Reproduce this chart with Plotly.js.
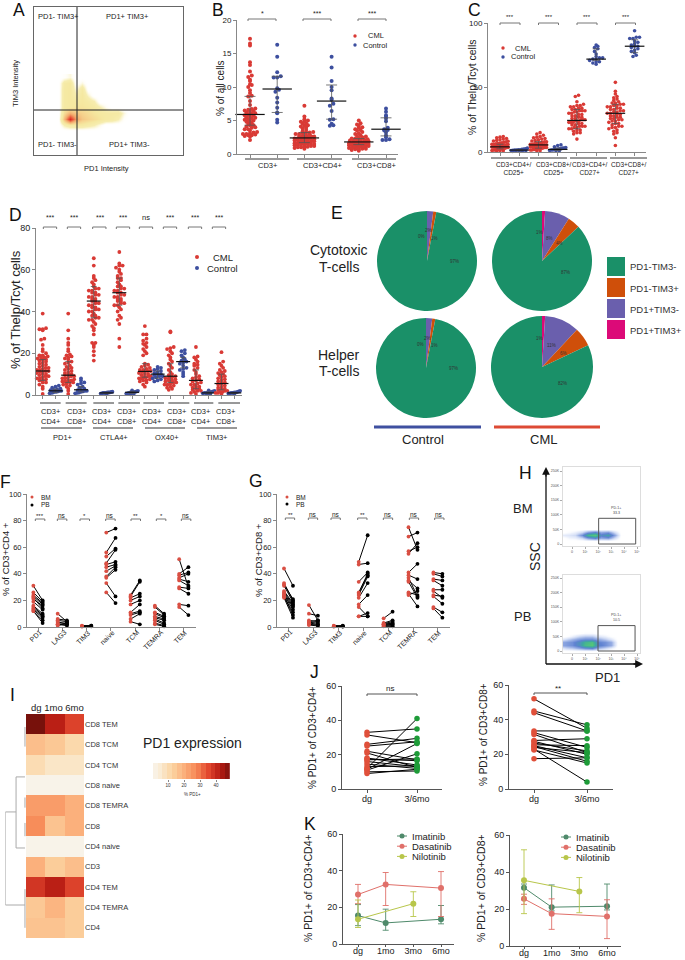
<!DOCTYPE html>
<html><head><meta charset="utf-8">
<script src="https://cdn.plot.ly/plotly-3.0.1.min.js"></script>
<style>html,body{margin:0;padding:0;background:#fff}</style></head>
<body><div id="chart" style="width:685px;height:960px"></div>
<script>
// ---------- DATA ----------
// Panel A density (rows bottom to top)
const aX=[24,30,36,42,48,54,60,66,72,78,84,90,96];
const aY=[24,30,36,42,48,54,60,66,72,78];
const aZ=[
[0,0,0,0,0,0,0,0,0,0,0,0,0],
[0,.2,.3,.3,.3,.25,.2,.1,0,0,0,0,0],
[0,.55,1,.65,.5,.45,.4,.35,.3,.28,.2,.05,0],
[0,.4,.6,.5,.45,.4,.35,.32,.3,.3,.3,.12,0],
[0,.3,.32,.35,.35,.33,.3,.2,.08,0,0,0,0],
[0,.3,.33,.3,.33,.28,.2,0,0,0,0,0,0],
[0,.3,.33,.2,.33,.15,0,0,0,0,0,0,0],
[0,.3,.33,.12,.3,.02,0,0,0,0,0,0,0],
[0,.28,.33,.02,.12,0,0,0,0,0,0,0,0],
[0,.05,.12,0,0,0,0,0,0,0,0,0,0]];
const aCrossX=43, aCrossY=45;

// Panel B
const bCd3Cml=[2.1,2.6,2.7,2.8,2.8,2.9,3,3,3.1,3.2,3.3,3.5,3.7,3.7,3.9,4,4.1,4.3,4.3,4.5,4.6,4.8,4.9,5,5.1,5.2,5.3,5.4,5.5,5.6,5.7,5.8,5.9,6,6.1,6.2,6.3,6.4,6.5,6.6,6.7,6.8,7.3,7.9,8.6,8.7,9.1,9.5,10,10.3,10.4,10.9,11.1,11.5,11.7,12.3,13.3,13.7,16.2,16.5,17.2];
const bCd3Ctl=[4.7,5.1,6.1,6.2,6.9,7.7,8.4,9.3,9.6,9.8,11.4,11.4,11.6,12.2,14.5,16.3];
const bCd4Cml=[.8,.9,1,1,1.1,1.1,1.2,1.2,1.3,1.3,1.4,1.4,1.5,1.5,1.5,1.6,1.6,1.7,1.7,1.8,1.8,1.9,1.9,2,2,2,2.1,2.1,2.2,2.2,2.3,2.3,2.4,2.4,2.5,2.5,2.6,2.6,2.7,2.7,2.8,2.9,3,3,3.1,3.2,3.2,3.3,3.4,3.6,3.8,3.9,4.1,4.2,4.3,4.5,4.6,4.8,4.9,5,5.2,5.6,7.2];
const bCd4Ctl=[4.2,4.3,4.5,5.1,5.2,6.4,7.2,7.5,8.1,8.3,9.5,10,10.9,12.9,14.5];
const bCd8Cml=[.5,.6,.7,.7,.8,.8,.9,.9,1,1,1,1.1,1.1,1.2,1.2,1.3,1.3,1.3,1.4,1.4,1.5,1.5,1.5,1.6,1.6,1.7,1.7,1.7,1.8,1.8,1.9,1.9,2,2,2,2.1,2.2,2.2,2.3,2.3,2.4,2.5,2.6,2.7,2.8,3,3.1,3.3,3.5,3.6,3.7,3.9,4,4.2,4.4,4.6,5];
const bCd8Ctl=[2.1,2.1,2.2,2.5,2.8,3.2,3.5,3.6,3.7,3.9,4.9,5.3,5.6,5.8,6.3,6.8];
const bMed=[5.9,9.7,2.4,7.9,1.8,3.7], bHi=[8.6,11.6,3.2,10.3,2.3,5.4], bLo=[4.3,6.2,1.7,5.2,1.4,2.7];
const bGroups=['CD3+','CD3+CD4+','CD3+CD8+'], bStars=['*','***','***'];

// Panel C
const cA1=[.8,1,1,1.2,1.5,1.5,1.8,2,2,2.2,2.5,2.5,2.8,3,3,3.2,3.5,3.5,3.8,4,4,4.2,4.5,4.5,4.8,5,5,5.2,5.5,5.8,6,6,6.3,6.5,7,7.2,7.5,8,8.3,8.5,9,9.5,10,10.5,11,11.5,12];
const cA2=[.5,.7,.8,1,1,1.2,1.3,1.5,1.5,1.7,1.8,2,2.2,2.5,3];
const cB1=[1,1,1.5,1.5,2,2,2.3,2.5,2.5,3,3,3.3,3.5,3.5,4,4,4.3,4.5,5,5,5.3,5.5,5.5,6,6,6.3,6.5,7,7,7.5,8,8,8.5,9,9.5,10,10.5,11,11.5,12,13,14,15];
const cB2=[1,1,1.2,1.5,1.5,1.8,2,2,2.2,2.5,2.5,3,3,3.5,4,5,5.5];
const cC1=[10,14,15,15,16,17,17,18,18,19,19,20,20,20,21,21,22,22,23,23,23,24,24,24,25,25,25,26,26,27,27,28,28,29,29,30,30,31,31,32,32,32,33,33,34,34,35,35,36,36,37,39,43,44];
const cC2=[68,69,70,70,71,72,72,73,73,74,76,78,80,81,82,83];
const cD1=[5,11,14,15,16,17,18,19,19,20,20,21,22,22,23,24,24,25,25,26,26,27,27,28,28,29,29,30,30,31,31,32,32,33,33,34,34,35,35,36,36,37,37,38,38,39,40,41,42,43,45,47,54];
const cD2=[74,75,77,78,79,80,81,82,82,83,84,85,86,88,88,89,89,94];
const cMed=[4,1.5,5.5,2,24.5,72,30,82], cHi=[6,2,8,3,33,80,37,87], cLo=[2.5,1,3,1.2,18,71,22,77];
const cGroups=['CD3+CD4+/<br>CD25+','CD3+CD8+/<br>CD25+','CD3+CD4+/<br>CD27+','CD3+CD8+/<br>CD27+'];

// Panel D
const dP1=[.5,3,4,5,6,6,7,7,7.5,8,8,8.5,9,9,9.5,10,10,10.5,11,11,11.5,11.5,12,12,12.5,13,13,13.5,14,14.5,15,15.5,16,16.5,17,17,17.5,18,18,18.5,19,19,20,21,22,24,26.5,27,31,31.5,31.5,32,39];
const dP2=[.8,1,1.2,1.5,1.5,1.7,2,2,2.3,2.5,2.8,3,3.5,4,4.5];
const dP3=[.5,2,3,4,4.5,5,5.5,6,6,6.5,6.5,7,7,7.5,8,8,8.5,9,9,9.5,10,10,10.5,11,11.5,12,12.5,13,13.5,14,15,15.5,16,17,17.5,18,18.5,19,19.5,21,22,24,25,27,31,39];
const dP4=[.8,1,1.2,1.5,1.7,2,2,2.3,2.5,3,3.5,4,5,5.5,6,7,8];
const dC1=[16.5,19,21,23,24,25,25,29,31,32,33,34,35,36,36,37,37,38,38,39,40,40,41,41,42,42,43,43,44,44,45,45,46,46,47,47,48,48,49,49,50,50,51,51,52,53,54,55,56,57,62,65.5];
const dC2=[.5,.7,.8,1,1,1,1.1,1.2,1.2,1.3,1.5,1.6];
const dC3=[23,27,34,36,37,38,40,41,42,43,43,44,44,45,45,46,46,47,47,48,48,49,49,50,50,51,51,52,52,53,54,55,56,56,57,58,59,60,61,62,62,63,68.5];
const dC4=[.3,.5,.7,.8,1,1,1.2,1.3,1.4,1.5,1.7,2,2.2];
const dO1=[4,5,6,6.5,7,7,7.5,8,8,8.5,8.5,9,9,9.5,10,10,10.5,11,11,11.5,11.5,12,12,12.5,13,13.5,14,14.5,15,19,20,21,22,23,24,24.5,25,26,27,29,29,33];
const dO2=[6.5,7,7.5,8,8.5,9,9,9.5,10,10,10.5,11,11.5,12,12.5,13,13.5];
const dO3=[2.5,3,3.5,4,4.5,5,5,5.5,6,6,6.5,7,7,7.5,8,8,8.5,9,9.5,10,11,12,13,14,15,16,17,18,19,20,21,22,22.5,23,30,30.5];
const dO4=[9,10,11,12,12.5,13,14,15,15.5,16,16.5,17,18,19,20,21,21.5];
const dT1=[.5,1,1.5,2,2,2.5,3,3,3.5,4,4,5,5,5.5,6,6.5,7,7.5,8,8.5,9,10,11,12,13,14,14.5,15,16,17,18,18.5,23];
const dT2=[.4,.6,.8,1,1,1.2,1.3,1.5,1.7,2,2.2];
const dT3=[.5,1,1,1.5,1.5,2,2,2.5,3,3,3.5,4,4.5,5,5.5,6,6.5,7,7.5,8,8.5,9,9.5,10,10.5,11,11.5,12,13,14,15,16,20.5];
const dT4=[.5,.7,.8,1,1,1.1,1.2,1.3,1.5,1.7,2];
const dMed=[11.5,2,9.5,2.5,45,1,49,1.3,11.3,10,9,16,7,1,5.5,1];
const dHi=[17,2.8,16,4,52,1.3,56,1.8,15,11.5,15,18,12,1.5,10,1.3];
const dLo=[7,1.2,6,1.5,37,.7,43,.8,8.5,8,6,13,3,.6,2.5,.7];
const dStars=['***','***','***','***','ns','***','***','***'];
const dMarkers=['PD1+','CTLA4+','OX40+','TIM3+'];

// Panel E
const pieLabels=['PD1+TIM3+','PD1+TIM3-','PD1-TIM3+','PD1-TIM3-'];
const pieColors=['#dc0a78','#6a5fad','#cf4f0a','#1a9068'];
const pieCytoCtl=[0,2,1,97], pieCytoCml=[1,8,4,87], pieHelpCtl=[0,2,1,97], pieHelpCml=[1,11,6,82];

// Panel F
const fCats=['PD1','LAG3','TIM3','naive','TCM','TEMRA','TEM'];
const fBM=[[31,26,24,23,22,21,19,16,15,14,13,12,12],[10,6,5,4,3,2,2,1],[1,.8,.5,.3],[71,56,53,48,47,45,42,38,37,33,26],[24,23,22,20,17,11,10,9,6,4],[16,15,11,10,8,7,6,5,3,2],[51,40,39,37,36,35,30,29,17,15]];
const fPB=[[20,19,18,17,14,16,13,10,9,8,7,5,3],[4,5,4,2,3,2,1,3],[1,1,.5,.8],[74,67,59,58,49,47,46,45,43,23,18],[35,34,25,23,20,17,12,11,10,2],[10,9,8,7,6,5,3,2,1,.5],[30,45,41,40,34,31,29,25,16,9]];
const fStars=['***','ns','*','ns','**','*','ns'];
// Panel G
const gBM=[[44,33,32,31,27,26,25,24,24,23,23,22],[16.5,10,5,4,3.5,3,2,1.5],[1,.8,.5,.3],[49,47,34,26,25,24,22,17,15,8,8],[6.5,3,2.5,2,2,1.5,1,.5],[75,68,57,55,41,39,37,35,34,26,25,24],[41,40,36,35,28,27,24,23,15,14]];
const gPB=[[31,20,21,19,18,17,16,15,13,11,9,7],[5,8.5,4,5,3,2,1.5,.8],[1,.8,.5,.3],[69,48,41,40,39,38,33,24,8,8,10.5],[11.5,5,4,3,2.5,2,1,.5],[58,71,60,63,47.5,36,23,29,22,24,15.5,27],[40,38,35,31,28,22,23,17.5,11,7]];
const gStars=['**','ns','ns','**','ns','ns','ns'];

// Panel H density
const hX=[-.75,-.25,.25,.75,1.25,1.75,2.25,2.75,3.25,3.75];
const hTopY=[10,20,30,40,50];
const hTopZ=[[0,0,0,0,0,0,0,0,0,0],[0,.08,.1,.2,.4,.5,.35,.4,.2,0],[.12,.15,.2,.45,.85,1,.55,.7,.4,.02],[0,.05,.1,.2,.4,.5,.35,.4,.2,0],[0,0,0,0,0,0,0,0,0,0]];
const hBotX=[-.9,-.5,0,.5,1,1.5,2,2.5,3,3.5];
const hBotY=[0,10,20,30,40,50,60,70];
const hBotZ=[[0,0,0,0,0,0,0,0,0,0],[.1,.2,.25,.35,.45,.5,.3,.2,.1,0],[.35,.4,.45,.6,.9,1,.55,.45,.35,0],[.35,.4,.45,.6,.85,.95,.5,.45,.35,0],[.1,.2,.3,.4,.45,.45,.35,.25,.15,0],[0,.02,.1,.2,.25,.25,.15,.1,.03,0],[0,0,0,.02,.05,.05,.02,0,0,0],[0,0,0,0,0,0,0,0,0,0]];
const hXTicks=['0','10¹','10²','10³','10⁴','10⁵'], hYTicks=['0','50K','100K','150K','200K','250K'];

// Panel I
const iCols=['dg','1mo','6mo'];
const iRows=['CD8 TEM','CD8 TCM','CD4 TCM','CD8 naive','CD8 TEMRA','CD8','CD4 naive','CD3','CD4 TEM','CD4 TEMRA','CD4'];
const iZ=[[49,42,36],[17,15,11],[10,7,7],[1,1,1],[24,24,20],[27,16,20],[1,1,1],[20,14,17],[38,42,36],[15,19,14],[16,16,14]];
const iSteps=[2,5,8,11,14,17,20,23,26,29,32,35,38,41,44,47];
const dendroX=[.05,.48,.48,.05,null,.48,1,1,.05,null,.05,.05,null,.05,.05,null,.05,.05,null,.05,.05];
const dendroY=[2.59,2.59,6.08,6.08,null,4.31,4.31,8.88,8.88,null,.14,1.1,null,3.6,4.1,null,4.85,5.5,null,8.1,10];

// Panel J
const jLeftDg=[33,31.5,26,25,22,21,18,17.5,17,16,14.5,13,12,11.5,11,10,9];
const jLeftPost=[35,27,29.5,27.5,17,12.5,14,16.5,17.5,13,12,13.5,41,26.5,20.5,10.5,11.5];
const jRightDg=[52,45,44,33.5,32.5,31.5,28,27.5,26.5,25.5,25,24.5,24,23,22.5,17.5];
const jRightPost=[35,37,33.5,33.5,24,21,29,20,22,25,18,16,21,4,15,18];

// Panel K
const kT=['dg','1mo','3mo','6mo'];
const kL={Imatinib:[[15.5,11.5,null,13.5],[21.5,19,null,21],[10,7.5,null,11]],Dasatinib:[[27,32.5,null,30.5],[32.5,39,null,39.5],[22,21,null,15]],Nilotinib:[[13.5,null,22,null],[24,null,28.5,null],[9,null,15,null]]};
const kR={Imatinib:[[31.5,21,null,21.5],[33.5,33,null,33.5],[25,19,null,19.5]],Dasatinib:[[25.5,17.5,null,16],[28,25.5,null,25],[22.5,9,null,4]],Nilotinib:[[35.5,null,29.5,null],[52,null,37,null],[17.5,null,18,null]]};
const kColors={Imatinib:'#4f8a6b',Dasatinib:'#e0706a',Nilotinib:'#b8c64a'};

// ---------- HELPERS ----------
const W=685,H=960,FONT='Liberation Sans, Arial, sans-serif',RED='#d93a35',BLUE='#3d4f9f',TXT='#222';
const traces=[],shapes=[],annots=[],layout={};
const px=x=>x/W, py=y=>1-y/H;
const sub=k=>k===1?'':String(k);
function rng(a,b,p0,v0,p1,v1){const f=p=>v0+(p-p0)*(v1-v0)/(p1-p0);return [f(a),f(b)];}
function axes(k,l,r,t,b,xr,yr,xo,yo){
 const base={showgrid:false,zeroline:false,showline:true,linecolor:'#888',linewidth:1,ticks:'outside',ticklen:3,tickwidth:1,tickcolor:'#888',tickfont:{family:FONT,size:8,color:TXT},fixedrange:true};
 layout['xaxis'+sub(k)]=Object.assign({},base,{domain:[px(l),px(r)],range:xr,anchor:'y'+sub(k)},xo||{});
 layout['yaxis'+sub(k)]=Object.assign({},base,{domain:[py(b),py(t)],range:yr,anchor:'x'+sub(k)},yo||{});
}
const on=(k,t)=>{t.xaxis='x'+sub(k);t.yaxis='y'+sub(k);t.hoverinfo='skip';t.showlegend=false;traces.push(t);};
function T(text,x,y,size,o){o=o||{};annots.push({text,x:px(x),y:py(y),xref:'paper',yref:'paper',showarrow:false,xanchor:o.a||'center',yanchor:'middle',textangle:o.rot||0,font:{family:FONT,size,color:o.c||TXT},borderpad:0});}
function L(x0,y0,x1,y1,c,w){shapes.push({type:'line',xref:'paper',yref:'paper',x0:px(x0),y0:py(y0),x1:px(x1),y1:py(y1),line:{color:c||'#444',width:w||1}});}
function bracket(x0,x1,y,c){shapes.push({type:'path',xref:'paper',yref:'paper',path:`M${px(x0)},${py(y+2)} L${px(x0)},${py(y)} L${px(x1)},${py(y)} L${px(x1)},${py(y+2)}`,line:{color:c||'#777',width:1}});}
function dot(x,y,r,c){shapes.push({type:'circle',xref:'paper',yref:'paper',x0:px(x-r),x1:px(x+r),y0:py(y+r),y1:py(y-r),fillcolor:c,line:{width:0}});}
function box(x0,y0,x1,y1,c){shapes.push({type:'rect',xref:'paper',yref:'paper',x0:px(x0),x1:px(x1),y0:py(y1),y1:py(y0),fillcolor:c,line:{width:0}});}
function swarm(vals,bin,dx,maxH){
 const m=new Map();vals.forEach(v=>{const b=Math.round(v/bin);if(!m.has(b))m.set(b,[]);m.get(b).push(v);});
 const xs=[],ys=[];
 for(const a of m.values()){const n=a.length,d=Math.min(dx,n>1?2*maxH/(n-1):dx);a.forEach((v,i)=>{xs.push((i-(n-1)/2)*d);ys.push(v);});}
 return {xs,ys};
}
function group(k,x0,vals,med,hi,lo,color,o){
 const s=swarm(vals,o.bin,o.dx,o.maxH);
 on(k,{type:'scatter',mode:'markers',x:s.xs.map(v=>v+x0),y:s.ys,cliponaxis:false,marker:{color,size:o.ms}});
 on(k,{type:'scatter',mode:'markers',x:[x0],y:[med],cliponaxis:false,marker:{symbol:'line-ew',size:o.len,color:'#111',line:{color:'#111',width:1.2}},
  error_y:{type:'data',symmetric:false,array:[hi-med],arrayminus:[med-lo],color:'#555',thickness:.8,width:o.cap}});
}
function paired(k,i,half,a,b,ms,c1,c2,lc){
 const lx=[],ly=[];a.forEach((v,j)=>{lx.push(i-half,i+half,null);ly.push(v,b[j],null);});
 on(k,{type:'scatter',mode:'lines',x:lx,y:ly,cliponaxis:false,line:{color:lc||'#000',width:1}});
 on(k,{type:'scatter',mode:'markers',x:a.map(()=>i-half),y:a,cliponaxis:false,marker:{color:c1,size:ms}});
 on(k,{type:'scatter',mode:'markers',x:b.map(()=>i+half),y:b,cliponaxis:false,marker:{color:c2,size:ms}});
}
// rotated category labels, ending just below each tick
function rotLabels(x0,d,size){
 const wid={PD1:11,LAG3:15.5,TIM3:15,naive:16,TCM:13,TEMRA:22,TEM:14};
 fCats.forEach((c,i)=>{const xe=x0+i*d+2,ye=632,o=wid[c]/2*.707;T(c,xe-o,ye+o,size,{rot:-45});});
}

// ---------- PANEL LETTERS ----------
[['A',19,10],['B',218,10],['C',474,10],['D',15,215],['E',337,213],['F',5,482],['G',256,481],['H',525,473],['I',12,695],['J',314,672],['K',310,824]].forEach(a=>T(a[0],a[1],a[2],17.5,{c:'#111'}));

// ---------- A ----------
axes(1,34,183,7,155,[0,149],[0,148],{mirror:true,ticks:'',showticklabels:false,linecolor:'#666'},{mirror:true,ticks:'',showticklabels:false,linecolor:'#666'});
on(1,{type:'heatmap',x:aX,y:aY,z:aZ,zmin:0,zmax:1,zsmooth:'best',showscale:false,colorscale:[[0,'rgba(255,255,255,0)'],[.08,'rgba(250,240,185,.15)'],[.2,'#f6edb0'],[.33,'#f5e8a0'],[.45,'#f6d38e'],[.65,'#f2a468'],[.85,'#e8553a'],[1,'#dd2a20']]});
on(1,{type:'scatter',mode:'lines',x:[aCrossX,aCrossX,null,0,149],y:[0,148,null,aCrossY,aCrossY],line:{color:'#222',width:1}});
T('PD1- TIM3+',58,16,7.5);T('PD1+ TIM3+',127,16,7.5);T('PD1- TIM3-',57,144,7.5);T('PD1+ TIM3-',129,144,7.5);
T('PD1 Intensity',106,168,7.5);T('TIM3 Intensity',16,83,7.5,{rot:-90});

// ---------- B ----------
axes(2,237,398,20,154,rng(237,398,250,0,277.2,1),[0,20],{tickvals:[0,1,2,3,4,5],showticklabels:false},{tickvals:[0,5,10,15,20]});
const bOpt={bin:.35,dx:.13,maxH:.36,ms:4,len:21,cap:5.5};
[bCd3Cml,bCd3Ctl,bCd4Cml,bCd4Ctl,bCd8Cml,bCd8Ctl].forEach((v,i)=>group(2,i,v,bMed[i],bHi[i],bLo[i],i%2?BLUE:RED,bOpt));
bGroups.forEach((g,i)=>{const c=[268,322,376][i];T(g,c,166,7.5);L([245,297,352][i],159,[289,342,396][i],159,'#333',1);
 const x0=[248,303,358][i];bracket(x0,x0+28,19);T(bStars[i],x0+14,13,7);});
T('% of all cells',220,88,10,{rot:-90});
dot(355,36,1.7,RED);dot(355,45,1.7,BLUE);T('CML',376,36,7.5);T('Control',375,45,7.5);

// ---------- C ----------
axes(3,488,646,23,152,rng(488,646,500,0,519.23,1),[0,100],{tickvals:[0,1,2,3,4,5,6,7],showticklabels:false},{tickvals:[0,50,100]});
const cOpt={bin:2.4,dx:.17,maxH:.42,ms:3.6,len:14,cap:3.5};
[cA1,cA2,cB1,cB2,cC1,cC2,cD1,cD2].forEach((v,i)=>group(3,i,v,cMed[i],cHi[i],cLo[i],i%2?BLUE:RED,cOpt));
cGroups.forEach((g,i)=>{annots.push({text:g,x:px([514,554,590,629][i]),y:py(168),xref:'paper',yref:'paper',showarrow:false,xanchor:'center',yanchor:'middle',font:{family:FONT,size:6.5,color:TXT}});
 L([491,530,570,610][i],158,[528,567,607,647][i],158,'#333',1);
 const x0=500+i*38.5;bracket(x0,x0+20,23);T('***',x0+10,17,6);});
T('% of Thelp/Tcyt cells',472,87,10.5,{rot:-90});
dot(503,48,1.7,RED);dot(503,57,1.7,BLUE);T('CML',523,48,7.5);T('Control',523,57,7.5);

// ---------- D ----------
axes(4,36,242,228,395,rng(36,242,42.7,0,55.47,1),[0,80],{tickvals:[...Array(16).keys()],showticklabels:false},{tickvals:[0,20,40,60,80],tickfont:{family:FONT,size:9,color:TXT}});
const dOpt={bin:1.4,dx:.26,maxH:.46,ms:3.8,len:10,cap:3};
[dP1,dP2,dP3,dP4,dC1,dC2,dC3,dC4,dO1,dO2,dO3,dO4,dT1,dT2,dT3,dT4].forEach((v,i)=>group(4,i,v,dMed[i],dHi[i],dLo[i],i%2?BLUE:RED,dOpt));
const dBr=[130,202,278,349,418,490,565,637], dLn=[[120,182],[197,260],[280,342],[355,420],[430,492],[505,568],[582,640],[655,720]], dLab=[51,77,102,127,152,177,201,226];
dStars.forEach((s,i)=>{bracket(dBr[i]/3,dBr[i]/3+13.3,227);T(s,dBr[i]/3+7,s==='ns'?218:217,s==='ns'?7.5:7);
 L(dLn[i][0]/3,403,dLn[i][1]/3,403,'#333',1);
 annots.push({text:i%2?'CD3+<br>CD8+':'CD3+<br>CD4+',x:px(dLab[i]),y:py(416),xref:'paper',yref:'paper',showarrow:false,xanchor:'center',yanchor:'middle',font:{family:FONT,size:7.5,color:TXT}});});
dMarkers.forEach((m,i)=>{L([41,93,145,197][i],428,[82,133,185,237][i],428,'#333',1);T(m,[63,114,167,217][i],437,7.5);});
T('% of Thelp/Tcyt cells',15,310,13,{rot:-90});
dot(197,257,2,RED);dot(197,268,2,BLUE);T('CML',223,257,9.5);T('Control',222,268,9.5);

// ---------- E ----------
const pies=[[pieCytoCtl,427,261,50],[pieCytoCml,542,261,50],[pieHelpCtl,426,368,50],[pieHelpCml,542,367,51]];
pies.forEach(p=>traces.push({type:'pie',values:p[0],labels:pieLabels,sort:false,direction:'clockwise',rotation:0,textinfo:'none',hoverinfo:'skip',showlegend:false,
 marker:{colors:pieColors,line:{width:0}},domain:{x:[px(p[1]-p[3]),px(p[1]+p[3])],y:[py(p[2]+p[3]),py(p[2]-p[3])]}}));
const pieTxt=[[[421,237],[428,231],[434,238],[454,261]],[[539,232],[549,238],[559,243],[565,272]],[[420,344],[427,338],[434,345],[453,368]],[[539,338],[551,345],[563,353],[562,383]]];
pies.forEach((p,i)=>p[0].forEach((v,j)=>T(v+'%',pieTxt[i][j][0],pieTxt[i][j][1],4.5,{c:'#333'})));
T('Cytotoxic',339,250,14);T('T-cells',339,267,14);T('Helper',339,355,14);T('T-cells',339,371,14);
L(374,427,481,427,'#3f50a0',3);L(494,427,600,427,'#dd4a35',3);T('Control',423,439,13);T('CML',543,439,13);
[3,2,1,0].forEach((c,i)=>{box(607,257+i*21,625,276+i*21,pieColors[c]);T(pieLabels[c],629,267+i*21,9.5,{a:'left',c:'#333'});});

// ---------- F ----------
axes(5,27,196,494,627,rng(27,196,38,0,62.3,1),[0,100],{tickvals:[0,1,2,3,4,5,6],showticklabels:false},{tickvals:[0,20,40,60,80,100],tickfont:{family:FONT,size:7.5,color:TXT}});
fCats.forEach((c,i)=>paired(5,i,.19,fBM[i],fPB[i],3.8,'#d94f43','#000'));
rotLabels(38,24.3,7);
[106,172,240,317,393,469,544].forEach((x,i)=>{bracket(x/3,x/3+9.5,519);T(fStars[i],x/3+4.8,fStars[i]==='ns'?515:516,fStars[i]==='ns'?6.5:6);});
T('% of CD3+CD4 +',5,559,9.5,{rot:-90});
dot(32,497,1.5,'#d94f43');dot(32,505,1.5,'#000');T('BM',40,497,6.5,{a:'left'});T('PB',40,505,6.5,{a:'left'});

// ---------- G ----------
axes(6,277,450,494,627,rng(277,450,288.5,0,313.4,1),[0,100],{tickvals:[0,1,2,3,4,5,6],showticklabels:false},{tickvals:[0,20,40,60,80,100],tickfont:{family:FONT,size:7.5,color:TXT}});
fCats.forEach((c,i)=>paired(6,i,.18,gBM[i],gPB[i],3.8,'#d94f43','#000'));
rotLabels(288.5,24.9,7);
[136,205,273,353,430,508,584].forEach((x,i)=>{bracket(240+x/3,240+x/3+9.3,518);T(gStars[i],240+x/3+4.7,gStars[i]==='ns'?514:515,gStars[i]==='ns'?6.5:6);});
T('% of CD3+CD8 +',258,560,9.5,{rot:-90});
dot(287,497,1.5,'#d94f43');dot(287,504,1.5,'#000');T('BM',295,497,6.5,{a:'left'});T('PB',295,504,6.5,{a:'left'});

// ---------- H ----------
const flowScale=[[0,'rgba(255,255,255,0)'],[.1,'rgba(215,225,248,.5)'],[.3,'#a5b9e8'],[.5,'#5f82d2'],[.75,'#3fa8a0'],[1,'#55c878']];
const hAx={ticklen:2,tickfont:{family:FONT,size:3.6,color:'#555'},linecolor:'#ddd',tickcolor:'#aaa',mirror:true};
axes(7,563,640,467,546,rng(563,640,572,0,585,1),rng(546,467,544,0,471,250),Object.assign({tickvals:[0,1,2,3,4,5],ticktext:hXTicks},hAx),Object.assign({tickvals:[0,50,100,150,200,250],ticktext:hYTicks},hAx));
axes(8,563,640,575,653,rng(563,640,572,0,585,1),rng(653,575,651,0,578,250),Object.assign({tickvals:[0,1,2,3,4,5],ticktext:hXTicks},hAx),Object.assign({tickvals:[0,50,100,150,200,250],ticktext:hYTicks},hAx));
on(7,{type:'heatmap',x:hX,y:hTopY,z:hTopZ,zmin:0,zmax:1,zsmooth:'best',showscale:false,colorscale:flowScale});
on(8,{type:'heatmap',x:hBotX,y:hBotY,z:hBotZ,zmin:0,zmax:1,zsmooth:'best',showscale:false,colorscale:flowScale});
shapes.push({type:'rect',xref:'x7',yref:'y7',x0:2.05,x1:4.9,y0:0,y1:88,line:{color:'#555',width:1}});
shapes.push({type:'rect',xref:'x8',yref:'y8',x0:2,x1:4.85,y0:0,y1:87,line:{color:'#555',width:1}});
T('PD-1+',616,508,3.6,{c:'#444'});T('33.3',616,513,3.6,{c:'#444'});T('PD-1+',616,615,3.6,{c:'#444'});T('10.5',616,620,3.6,{c:'#444'});
T('BM',523,509,13);T('PB',522,616,13);T('SSC',535,557,14,{rot:-90});T('PD1',607,677,13);
L(546,664,546,472,'#111',1.3);L(546,664,638,664,'#111',1.3);
annots.push({text:'',x:px(546),y:py(467),ax:px(546),ay:py(478),xref:'paper',yref:'paper',axref:'paper',ayref:'paper',showarrow:true,arrowhead:2,arrowsize:1.2,arrowwidth:1.3,arrowcolor:'#111'});
annots.push({text:'',x:px(643),y:py(664),ax:px(632),ay:py(664),xref:'paper',yref:'paper',axref:'paper',ayref:'paper',showarrow:true,arrowhead:2,arrowsize:1.2,arrowwidth:1.3,arrowcolor:'#111'});

// ---------- I ----------
const iScale=[[0,'#f8f5ee'],[.1,'#faecd5'],[.25,'#fbd4a2'],[.4,'#fbb07c'],[.55,'#f78a58'],[.7,'#e2482f'],[.85,'#b71c13'],[1,'#6d0f0a']];
axes(9,26,84,714,938,[-.5,2.5],[10.5,-.5],{showline:false,ticks:'',showticklabels:false,type:'linear',tickvals:[]},{side:'right',showline:false,ticks:'',tickmode:'array',tickvals:iRows.map((r,i)=>i),ticktext:iRows,tickfont:{family:FONT,size:7.5,color:'#333'}});
on(9,{type:'heatmap',x:[0,1,2],y:iRows.map((r,i)=>i),z:iZ,text:iRows,zmin:0,zmax:50,showscale:false,colorscale:iScale,xgap:0,ygap:0});
T(iCols.join(' '),57,707,9.5);
axes(10,5.3,26,714,938,[1,0],[10.5,-.5],{visible:false},{visible:false});
on(10,{type:'scatter',mode:'lines',x:dendroX,y:dendroY,line:{color:'#aaa',width:1}});
axes(11,153,231,763,779,rng(153,231,168,10,184,20),[-.5,.5],{tickvals:[10,20,30,40],ticklen:1.5,tickfont:{family:FONT,size:4.5,color:'#333'},showline:false},{visible:false});
on(11,{type:'heatmap',x:iSteps,y:[0],z:[iSteps],zmin:0,zmax:50,showscale:false,colorscale:iScale});
T('PD1 expression',192,743,14);T('% PD1+',192,794,4.5,{c:'#333'});

// ---------- J ----------
const jAx={linecolor:'#555',tickcolor:'#555',tickfont:{family:FONT,size:9,color:TXT}};
axes(12,342,442,686,789,rng(342,442,367,0,417,1),[0,60],Object.assign({tickvals:[0,1],ticktext:['dg','3/6mo'],ticklabelstandoff:-2},jAx),Object.assign({tickvals:[0,20,40,60]},jAx));
axes(13,509,613,685,789,rng(509,613,534,0,587,1),[0,60],Object.assign({tickvals:[0,1],ticktext:['dg','3/6mo'],ticklabelstandoff:-2},jAx),Object.assign({tickvals:[0,20,40,60]},jAx));
paired(12,.5,.5,jLeftDg,jLeftPost,5.5,'#e0503a','#1e9b38');
paired(13,.5,.5,jRightDg,jRightPost,5.5,'#e0503a','#1e9b38');
bracket(367,417,694,'#555');T('ns',390,688,8);bracket(534,587,693,'#555');T('**',558,688,8);
T('% PD1+ of CD3+CD4+',312,738,10,{rot:-90});T('% PD1+ of CD3+CD8+',483,735,10,{rot:-90});

// ---------- K ----------
function kPanel(k,l,r,t,b,x0,d,src){
 const ax={linecolor:'#555',tickcolor:'#555',tickfont:{family:FONT,size:9,color:TXT}};
 axes(k,l,r,t,b,rng(l,r,x0,0,x0+d,1),[0,60],Object.assign({tickvals:[0,1,2,3],ticktext:kT,ticklen:2,ticklabelstandoff:-4},ax),Object.assign({tickvals:[0,20,40,60]},ax));
 Object.keys(src).forEach(n=>{const [m,h,lo]=src[n];const up=m.map((v,i)=>v==null?null:h[i]-v),dn=m.map((v,i)=>v==null?null:v-lo[i]);
  on(k,{type:'scatter',mode:'lines+markers',name:n,x:[0,1,2,3],y:m,connectgaps:true,cliponaxis:false,line:{color:kColors[n],width:1},marker:{color:kColors[n],size:6},
   error_y:{type:'data',symmetric:false,array:up,arrayminus:dn,color:kColors[n],thickness:.9,width:3}});});
}
kPanel(14,343,454,834,944,358,27.67,kL);
kPanel(15,510,621,835,946,524,27.67,kR);
Object.keys(kColors).forEach((n,i)=>{
 [[402,411,836],[566,575,837]].forEach((q,j)=>{const y=q[2]+i*10.2;L(q[0]-5,y,q[0]+5,y,kColors[n],1);dot(q[0],y,2.5,kColors[n]);T(n,q[1],y,9.5,{a:'left'});});
});
T('% PD1+ of CD3+CD4+',308,888,10.5,{rot:-90});T('% PD1+ of CD3+CD8+',481,888,10.5,{rot:-90});

Object.assign(layout,{width:W,height:H,margin:{l:0,r:0,t:0,b:0,pad:0},paper_bgcolor:'#fff',plot_bgcolor:'rgba(0,0,0,0)',showlegend:false,shapes,annotations:annots,font:{family:FONT,color:TXT},hovermode:false});
Plotly.newPlot('chart',traces,layout,{staticPlot:true,displayModeBar:false});
</script></body></html>
